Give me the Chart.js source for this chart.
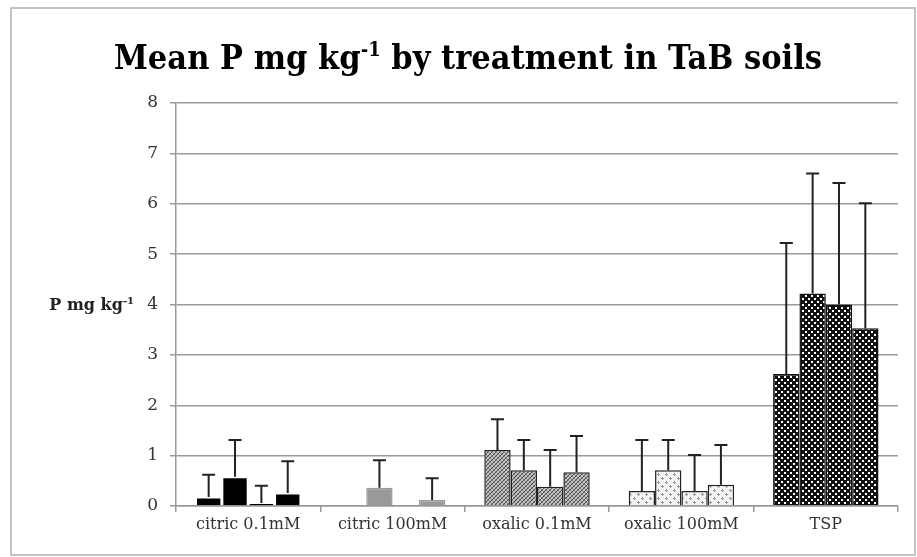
<!DOCTYPE html>
<html>
<head>
<meta charset="utf-8">
<script src="https://cdn.jsdelivr.net/npm/chart.js@4"></script>
<style>
  body { margin: 0; background: #fff; }
  #frame { position: absolute; left: 10px; top: 7px; width: 906px; height: 549px; border: 2px solid #c4c4c4; box-sizing: border-box; }
  #wrap { position: absolute; left: 0; top: 0; width: 917px; height: 557px; }
</style>
</head>
<body>
<div id="frame"></div>
<div id="wrap"><canvas id="chart"></canvas></div>
<script>
const categories = ["citric 0.1mM", "citric 100mM", "oxalic 0.1mM", "oxalic 100mM", "TSP"];
const yTicks = [0, 1, 2, 3, 4, 5, 6, 7, 8];

// four replicate bars per treatment (means), null = no bar
const rep1 = [0.18, null, 1.11, 0.30, 2.62];
const rep2 = [0.58, 0.36, 0.71, 0.71, 4.22];
const rep3 = [0.06, null, 0.38, 0.30, 4.00];
const rep4 = [0.26, 0.12, 0.67, 0.42, 3.53];

// upper error bar lengths
const err1 = [0.44, null, 0.61, 1.01, 2.60];
const err2 = [0.73, 0.55, 0.60, 0.60, 2.38];
const err3 = [0.34, null, 0.73, 0.71, 2.41];
const err4 = [0.63, 0.43, 0.72, 0.79, 2.48];

const serifC = "'DejaVu Serif Condensed', 'DejaVu Serif', serif";
const serif = "'DejaVu Serif', serif";

function makePattern(size, draw) {
  let c = document.createElement("canvas");
  c.width = size;
  c.height = size;
  draw(c.getContext("2d"));
  return c.getContext("2d").createPattern(c, "repeat");
}

// oxalic 0.1mM - fine diagonal crosshatch
const hatch = makePattern(4, function (g) {
  g.fillStyle = "#c8c8c8";
  g.fillRect(0, 0, 4, 4);
  g.fillStyle = "#444";
  for (let i = 0; i < 4; i++) g.fillRect(i, 3 - i, 1, 1);
  g.fillStyle = "#888";
  for (let i = 0; i < 4; i++) g.fillRect(i, i, 1, 1);
});

// oxalic 100mM - light with small grey crosses
const dots = makePattern(8, function (g) {
  g.fillStyle = "#f2f2f2";
  g.fillRect(0, 0, 8, 8);
  g.fillStyle = "#999";
  g.fillRect(1, 2, 3, 1);
  g.fillRect(2, 1, 1, 3);
  g.fillRect(5, 6, 3, 1);
  g.fillRect(6, 5, 1, 3);
});

// TSP - black with white dots
const checker = makePattern(6, function (g) {
  g.fillStyle = "#111";
  g.fillRect(0, 0, 6, 6);
  g.fillStyle = "#fff";
  g.fillRect(1, 1, 2, 2);
  g.fillRect(4, 4, 2, 2);
});

const fills = ["#000", "#999", hatch, dots, checker];
const borders = ["#fff", "#999", "#222", "#222", "#111"];

function makeSet(data, errs) {
  return {
    data: data,
    errors: errs,
    backgroundColor: fills,
    borderColor: borders,
    borderWidth: 1.5,
    barPercentage: 1.0,
    categoryPercentage: 0.73,
  };
}

const errorBars = {
  id: "errorBars",
  afterDatasetsDraw(chart) {
    const ctx = chart.ctx;
    const y = chart.scales.y;
    ctx.save();
    ctx.strokeStyle = "#222";
    ctx.lineWidth = 2;
    chart.data.datasets.forEach(function (ds, i) {
      chart.getDatasetMeta(i).data.forEach(function (bar, j) {
        let v = ds.data[j];
        let e = ds.errors[j];
        if (v == null || e == null) return;
        let base = y.getPixelForValue(v);
        let top = y.getPixelForValue(v + e);
        ctx.beginPath();
        ctx.moveTo(bar.x, base);
        ctx.lineTo(bar.x, top);
        ctx.moveTo(bar.x - 6.5, top);
        ctx.lineTo(bar.x + 6.5, top);
        ctx.stroke();
      });
    });
    ctx.restore();
  },
};

function supText(ctx, family, parts, x, y, align) {
  // parts: [text, size, raise]
  let total = 0;
  parts.forEach(function (p) {
    ctx.font = "bold " + p[1] + "px " + family;
    total += ctx.measureText(p[0]).width;
  });
  let cx = align === "center" ? x - total / 2 : x - total;
  parts.forEach(function (p) {
    ctx.font = "bold " + p[1] + "px " + family;
    ctx.fillText(p[0], cx, y - p[2]);
    cx += ctx.measureText(p[0]).width;
  });
}

const labels = {
  id: "labels",
  afterDraw(chart) {
    const ctx = chart.ctx;
    ctx.save();
    ctx.fillStyle = "#000";
    ctx.textAlign = "left";
    ctx.textBaseline = "alphabetic";
    supText(ctx, serifC, [["Mean P mg kg", 34, 0], ["-1", 20, 13], [" by treatment in TaB soils", 34, 0]], 468, 69, "center");
    ctx.fillStyle = "#222";
    supText(ctx, serif, [["P mg kg", 16, 0], ["-1", 10, 6]], 134, 310, "right");
    ctx.restore();
  },
};

new Chart(document.getElementById("chart"), {
  type: "bar",
  data: {
    labels: categories,
    datasets: [makeSet(rep1, err1), makeSet(rep2, err2), makeSet(rep3, err3), makeSet(rep4, err4)],
  },
  options: {
    responsive: true,
    maintainAspectRatio: false,
    animation: false,
    layout: { padding: { left: 0, top: 103, right: 19, bottom: 11 } },
    scales: {
      x: {
        grid: { offset: true, drawOnChartArea: false, color: "#999", lineWidth: 1.5, tickLength: 6 },
        border: { color: "#999", width: 1.5 },
        ticks: { color: "#333", font: { family: serif, size: 16 }, padding: 3 },
        afterFit(scale) { scale.height = 40; },
      },
      y: {
        min: 0,
        max: 8,
        afterBuildTicks(scale) { scale.ticks = yTicks.map(v => ({ value: v })); },
        grid: { color: "#9a9a9a", lineWidth: 1.5, tickLength: 6 },
        border: { color: "#999", width: 1.5 },
        ticks: { color: "#333", font: { family: serif, size: 17 }, padding: 12 },
        afterFit(scale) { scale.width = 176; },
      },
    },
    plugins: {
      legend: false,
      tooltip: { enabled: false },
    },
  },
  plugins: [errorBars, labels],
});
</script>
</body>
</html>
